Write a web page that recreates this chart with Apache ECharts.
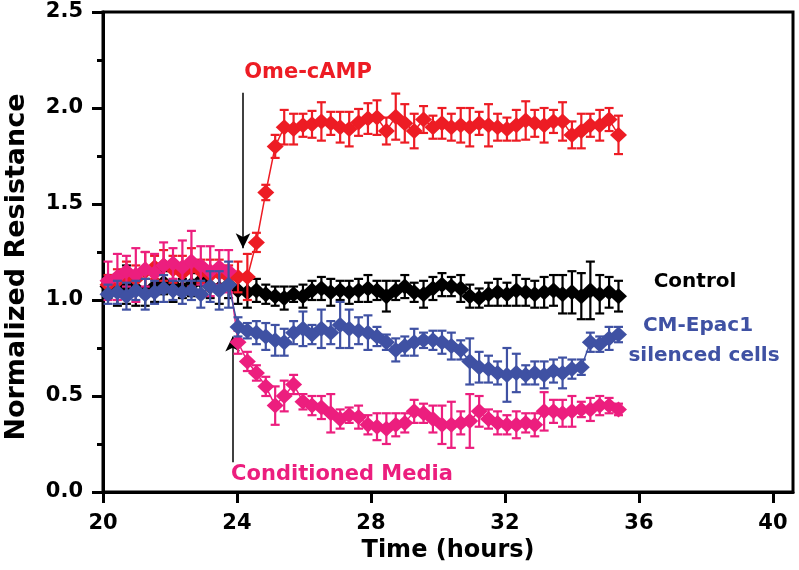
<!DOCTYPE html>
<html>
<head>
<meta charset="utf-8">
<script src="https://cdn.jsdelivr.net/npm/echarts@6/dist/echarts.min.js"></script>
<style>
html,body{margin:0;padding:0;background:#fff;}
#c{width:799px;height:570px;}
</style>
</head>
<body>
<div id="c"></div>
<script>
// ---- data ----
const times = [20.15,20.43,20.70,20.98,21.26,21.54,21.81,22.09,22.37,22.64,22.92,23.20,23.47,23.75,
  24.03,24.31,24.58,24.86,25.14,25.41,25.69,25.97,26.24,26.52,26.80,27.08,27.35,27.63,27.91,28.18,
  28.46,28.74,29.01,29.29,29.57,29.85,30.12,30.40,30.68,30.95,31.23,31.51,31.78,32.06,32.34,32.62,
  32.89,33.17,33.45,33.72,34.00,34.28,34.55,34.83,35.11,35.39];

const omeCAMP = [1.08,1.10,1.12,1.11,1.15,1.17,1.18,1.16,1.14,1.17,1.15,1.13,1.14,1.12,
  1.12,1.12,1.30,1.56,1.80,
  1.90,1.89,1.91,1.915,1.93,1.92,1.90,1.89,1.925,1.945,1.95,1.88,1.955,1.92,1.88,1.94,1.90,1.92,1.90,
  1.91,1.90,1.92,1.91,1.90,1.89,1.91,1.935,1.92,1.91,1.93,1.93,1.86,1.88,1.91,1.91,1.94,1.86];
const omeCAMPErr = [0.05,0.06,0.08,0.07,0.10,0.06,0.08,0.07,0.09,0.10,0.06,0.08,0.07,0.06,
  0.08,0.12,0.05,0.04,0.06,0.09,0.08,0.06,0.07,0.10,0.06,0.08,0.09,0.07,0.08,0.09,0.07,0.12,0.10,0.09,
  0.07,0.06,0.08,0.07,0.09,0.10,0.06,0.11,0.07,0.06,0.08,0.10,0.07,0.09,0.06,0.10,0.07,0.09,0.06,0.08,
  0.06,0.10];

const control = [1.07,1.05,1.08,1.06,1.04,1.07,1.09,1.08,1.06,1.08,1.10,1.07,1.06,1.08,
  1.05,1.04,1.05,1.03,1.02,1.01,1.03,1.02,1.05,1.06,1.04,1.05,1.04,1.05,1.06,1.05,1.02,1.05,1.07,1.04,
  1.03,1.06,1.08,1.07,1.06,1.02,1.01,1.03,1.04,1.03,1.05,1.04,1.03,1.04,1.05,1.03,1.04,1.02,1.05,1.03,
  1.04,1.02];
const controlErr = [0.06,0.08,0.10,0.09,0.07,0.08,0.06,0.09,0.05,0.06,0.07,0.06,0.08,0.07,
  0.07,0.08,0.06,0.05,0.05,0.06,0.04,0.06,0.05,0.06,0.07,0.05,0.06,0.06,0.07,0.05,0.08,0.05,0.06,0.05,
  0.07,0.06,0.06,0.05,0.07,0.06,0.05,0.06,0.07,0.06,0.08,0.07,0.07,0.08,0.08,0.10,0.11,0.12,0.15,0.10,
  0.08,0.08];

const cmEpac1 = [1.03,1.04,1.02,1.05,1.03,1.04,1.06,1.05,1.04,1.05,1.03,1.07,1.05,1.08,
  0.86,0.84,0.83,0.81,0.79,0.78,0.83,0.85,0.82,0.85,0.83,0.87,0.85,0.84,0.83,0.81,0.78,0.74,0.76,0.78,
  0.79,0.79,0.78,0.76,0.74,0.68,0.65,0.64,0.62,0.61,0.62,0.61,0.62,0.61,0.63,0.62,0.64,0.65,0.78,0.77,
  0.80,0.82];
const cmEpac1Err = [0.05,0.06,0.07,0.05,0.08,0.06,0.07,0.05,0.06,0.05,0.07,0.08,0.10,0.12,
  0.05,0.04,0.06,0.07,0.08,0.07,0.06,0.09,0.05,0.10,0.06,0.12,0.10,0.07,0.09,0.05,0.04,0.06,0.05,0.07,
  0.04,0.05,0.06,0.07,0.05,0.12,0.08,0.07,0.06,0.14,0.10,0.05,0.06,0.07,0.06,0.08,0.05,0.04,0.05,0.04,
  0.06,0.04];

const condMedia = [1.10,1.12,1.15,1.13,1.16,1.14,1.18,1.19,1.17,1.20,1.18,1.15,1.17,1.15,
  0.78,0.68,0.62,0.55,0.45,0.50,0.56,0.47,0.45,0.44,0.41,0.38,0.40,0.39,0.35,0.34,0.33,0.35,0.36,0.42,
  0.41,0.38,0.35,0.35,0.36,0.37,0.42,0.38,0.36,0.35,0.35,0.36,0.35,0.42,0.42,0.41,0.42,0.43,0.43,0.45,
  0.45,0.43];
const condMediaErr = [0.10,0.12,0.08,0.14,0.09,0.10,0.12,0.08,0.14,0.16,0.10,0.13,0.09,0.11,
  0.06,0.05,0.04,0.05,0.10,0.08,0.05,0.04,0.05,0.06,0.10,0.05,0.04,0.06,0.05,0.07,0.08,0.06,0.05,0.06,
  0.05,0.07,0.10,0.12,0.06,0.14,0.08,0.05,0.06,0.05,0.07,0.05,0.06,0.10,0.06,0.07,0.08,0.04,0.06,0.05,
  0.04,0.03];

const xTickValues = [20,24,28,32,36,40];

// ---- chart ----
const COLORS = {red:'#ED1C24', black:'#000000', blue:'#3F51A3', pink:'#EC1E7E'};
const FONT = '"DejaVu Sans", "Liberation Sans", Arial, sans-serif';

function pts(vals){ return times.map((t,i)=>[t, vals[i]]); }
function errs(vals, e){ return times.map((t,i)=>[t, vals[i]-e[i], vals[i]+e[i]]); }

function errSeries(vals, e, color, z){
  return {
    type:'custom', z:z, silent:true,
    data: errs(vals,e),
    encode:{x:0, y:[1,2]},
    renderItem:function(params, api){
      const x = api.value(0);
      const top = api.coord([x, api.value(2)]);
      const bot = api.coord([x, api.value(1)]);
      const h = 4.5;
      const st = {stroke:color, lineWidth:2.2};
      return {type:'group', children:[
        {type:'line', shape:{x1:top[0], y1:top[1], x2:bot[0], y2:bot[1]}, style:st},
        {type:'line', shape:{x1:top[0]-h, y1:top[1], x2:top[0]+h, y2:top[1]}, style:st},
        {type:'line', shape:{x1:bot[0]-h, y1:bot[1], x2:bot[0]+h, y2:bot[1]}, style:st}
      ]};
    }
  };
}
function lineSeries(name, vals, color, z, extra){
  return Object.assign({
    name:name, type:'line', z:z, data:pts(vals),
    symbol:'diamond', symbolSize:[17,16], showSymbol:true,
    lineStyle:{color:color, width:1.5},
    itemStyle:{color:color},
    emphasis:{disabled:true}
  }, extra||{});
}

const arrowStyle = {color:'#000', width:1.5, type:'solid'};

const option = {
  animation:false,
  backgroundColor:'#fff',
  grid:{left:103, right:6, top:12, bottom:78, show:true, borderColor:'#000', borderWidth:3, backgroundColor:'transparent'},
  xAxis:{
    type:'value', min:20, max:40.6, interval:4,
    name:'Time (hours)', nameLocation:'middle', nameGap:47,
    nameTextStyle:{fontFamily:FONT, fontWeight:'bold', fontSize:24, color:'#000'},
    axisLine:{show:true, lineStyle:{color:'#000', width:3}},
    axisTick:{show:true, inside:false, length:11, lineStyle:{width:3, color:'#000'}, customValues:xTickValues},
    axisLabel:{fontFamily:FONT, fontWeight:'bold', fontSize:21, color:'#000', margin:21, customValues:xTickValues},
    splitLine:{show:false}
  },
  yAxis:{
    type:'value', min:0, max:2.5, interval:0.5,
    axisLine:{show:true, lineStyle:{color:'#000', width:3}},
    axisTick:{show:true, inside:false, length:11, lineStyle:{width:3, color:'#000'}},
    minorTick:{show:true, splitNumber:2, length:6, lineStyle:{width:3, color:'#000'}},
    axisLabel:{fontFamily:FONT, fontWeight:'bold', fontSize:21, color:'#000', margin:20,
      formatter:function(v){return v.toFixed(1);}},
    splitLine:{show:false}
  },
  series:[
    errSeries(control, controlErr, COLORS.black, 2),
    lineSeries('Control', control, COLORS.black, 3),
    errSeries(omeCAMP, omeCAMPErr, COLORS.red, 4),
    lineSeries('Ome-cAMP', omeCAMP, COLORS.red, 5, {
      markLine:{silent:true, symbol:['none','arrow'], symbolSize:[11,15], label:{show:false},
        lineStyle:arrowStyle,
        data:[[{coord:[24.18,2.08]},{coord:[24.18,1.27]}]]}
    }),
    errSeries(condMedia, condMediaErr, COLORS.pink, 6),
    lineSeries('Conditioned Media', condMedia, COLORS.pink, 7, {
      markLine:{silent:true, symbol:['none','arrow'], symbolSize:[11,15], label:{show:false},
        lineStyle:arrowStyle,
        data:[[{coord:[23.87,0.155]},{coord:[23.87,0.81]}]]}
    }),
    errSeries(cmEpac1, cmEpac1Err, COLORS.blue, 8),
    lineSeries('CM-Epac1 silenced cells', cmEpac1, COLORS.blue, 9)
  ],
  graphic:[
    {type:'text', x:17, y:267, rotation:Math.PI/2, z:100, style:{text:'Normalized Resistance', fill:'#000', font:'bold 27px '+FONT, textAlign:'center', textVerticalAlign:'middle'}},
    {type:'text', x:308, y:73, z:100, style:{text:'Ome-cAMP', fill:COLORS.red, font:'bold 21px '+FONT, textAlign:'center', textVerticalAlign:'middle'}},
    {type:'text', x:695, y:282, z:100, style:{text:'Control', fill:'#000', font:'bold 20px '+FONT, textAlign:'center', textVerticalAlign:'middle'}},
    {type:'text', x:698, y:326, z:100, style:{text:'CM-Epac1', fill:COLORS.blue, font:'bold 20px '+FONT, textAlign:'center', textVerticalAlign:'middle'}},
    {type:'text', x:704, y:356, z:100, style:{text:'silenced cells', fill:COLORS.blue, font:'bold 20px '+FONT, textAlign:'center', textVerticalAlign:'middle'}},
    {type:'text', x:342, y:475, z:100, style:{text:'Conditioned Media', fill:COLORS.pink, font:'bold 21px '+FONT, textAlign:'center', textVerticalAlign:'middle'}}
  ]
};

const chart = echarts.init(document.getElementById('c'), null, {renderer:'canvas'});
chart.setOption(option);
</script>
</body>
</html>
